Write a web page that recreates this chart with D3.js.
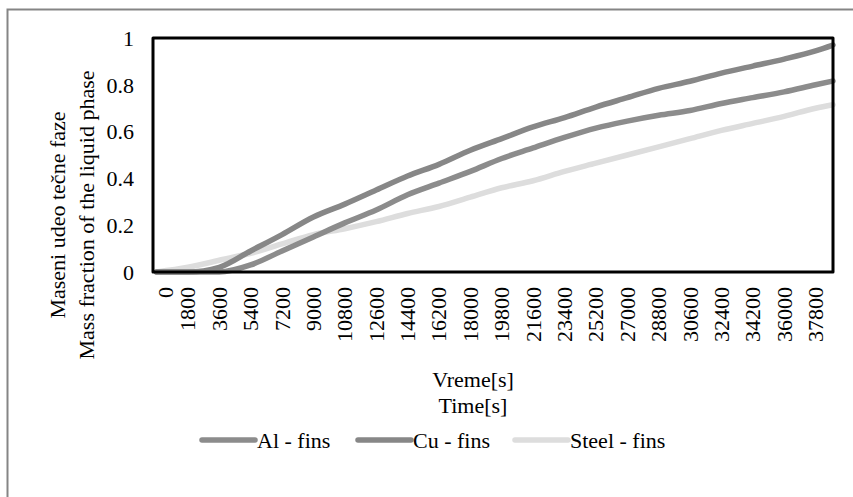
<!DOCTYPE html>
<html>
<head>
<meta charset="utf-8">
<script src="https://cdn.jsdelivr.net/npm/d3@7/dist/d3.min.js"></script>
<style>
  html, body { margin: 0; padding: 0; background: #fff; }
  svg { display: block; }
</style>
</head>
<body>
<svg id="chart" width="853" height="497"></svg>
<script>
// Time samples in seconds
const times = [0, 1800, 3600, 5400, 7200, 9000, 10800, 12600, 14400, 16200, 18000,
  19800, 21600, 23400, 25200, 27000, 28800, 30600, 32400, 34200, 36000, 37800, 38800];

// Mass fraction of the liquid phase per fin material
const alFins = [0, 0, 0, 0.03, 0.09, 0.15, 0.21, 0.265, 0.33, 0.38, 0.43,
  0.485, 0.53, 0.575, 0.615, 0.645, 0.67, 0.69, 0.72, 0.745, 0.77, 0.8, 0.816];
const cuFins = [0, 0, 0.02, 0.09, 0.16, 0.235, 0.29, 0.35, 0.41, 0.46, 0.52,
  0.57, 0.62, 0.66, 0.705, 0.745, 0.785, 0.815, 0.85, 0.88, 0.91, 0.945, 0.97];
const steelFins = [0, 0.02, 0.05, 0.08, 0.12, 0.16, 0.185, 0.215, 0.25, 0.28, 0.32,
  0.36, 0.39, 0.43, 0.465, 0.5, 0.535, 0.57, 0.605, 0.635, 0.665, 0.7, 0.715];

const seriesNames = ["Al - fins", "Cu - fins", "Steel - fins"];
const seriesColors = ["#8c8c8c", "#878787", "#dddddd"];

// Axis labels
const xTickValues = [0, 1800, 3600, 5400, 7200, 9000, 10800, 12600, 14400, 16200, 18000,
  19800, 21600, 23400, 25200, 27000, 28800, 30600, 32400, 34200, 36000, 37800];
const yTickValues = [0, 0.2, 0.4, 0.6, 0.8, 1];
const yTitleLines = ["Maseni udeo tečne faze", "Mass fraction of the liquid phase"];
const xTitleLines = ["Vreme[s]", "Time[s]"];

const FONT = "'Liberation Serif', Tinos, 'Times New Roman', 'DejaVu Serif', serif";
const FS = 22;

const svg = d3.select("#chart")
  .attr("font-family", FONT)
  .style("font-family", FONT);

// Partial outer frame (top and left edges)
svg.append("path")
  .attr("d", "M7.5,497 L7.5,9.5 L853,9.5")
  .attr("fill", "none")
  .attr("stroke", "#858585")
  .attr("stroke-width", 2);

const plot = { left: 153, right: 833, top: 38, bottom: 272 };

const x = d3.scaleLinear().domain([0, 38800]).range([plot.left + 3.5, plot.right]);
const y = d3.scaleLinear().domain([0, 1]).range([plot.bottom, plot.top]);

// Y tick labels
svg.append("g")
  .selectAll("text")
  .data(yTickValues)
  .join("text")
  .attr("x", 134)
  .attr("y", d => y(d))
  .attr("dy", "0.35em")
  .attr("text-anchor", "end")
  .attr("font-size", FS)
  .text(d => d3.format("~g")(d));

// X tick labels, rotated
svg.append("g")
  .selectAll("text")
  .data(xTickValues)
  .join("text")
  .attr("transform", d => {
    const px = Math.max(x(d), plot.left + 13);
    return `translate(${px},287) rotate(-90)`;
  })
  .attr("dy", "0.34em")
  .attr("text-anchor", "end")
  .attr("font-size", FS)
  .text(d => d);

// Y title (two rotated lines)
svg.append("g")
  .selectAll("text")
  .data(yTitleLines)
  .join("text")
  .attr("transform", (d, i) => `translate(${65 + i * 29},215) rotate(-90)`)
  .attr("text-anchor", "middle")
  .attr("font-size", FS)
  .text(d => d);

// X title (two lines)
svg.append("g")
  .selectAll("text")
  .data(xTitleLines)
  .join("text")
  .attr("x", 473)
  .attr("y", (d, i) => 387 + i * 26)
  .attr("text-anchor", "middle")
  .attr("font-size", FS)
  .text(d => d);

// Series lines
const seriesValues = [alFins, cuFins, steelFins];
const line = d3.line()
  .x(d => x(d[0]))
  .y(d => y(d[1]))
  .curve(d3.curveMonotoneX);

const drawOrder = [2, 0, 1];
drawOrder.forEach(i => {
  svg.append("path")
    .datum(times.map((t, k) => [t, seriesValues[i][k]]))
    .attr("d", line)
    .attr("fill", "none")
    .attr("stroke", seriesColors[i])
    .attr("stroke-width", 5.5)
    .attr("stroke-linecap", "round")
    .attr("stroke-linejoin", "round");
});

// Plot area border
svg.append("rect")
  .attr("x", plot.left)
  .attr("y", plot.top)
  .attr("width", plot.right - plot.left)
  .attr("height", plot.bottom - plot.top)
  .attr("fill", "none")
  .attr("stroke", "#000")
  .attr("stroke-width", 3)
  .attr("stroke-linejoin", "round");

// Legend
const legendX = [202, 358, 515];
const legend = svg.append("g");
seriesNames.forEach((name, i) => {
  legend.append("line")
    .attr("x1", legendX[i]).attr("x2", legendX[i] + 53)
    .attr("y1", 440).attr("y2", 440)
    .attr("stroke", seriesColors[i])
    .attr("stroke-width", 5.5)
    .attr("stroke-linecap", "round");
  legend.append("text")
    .attr("x", legendX[i] + 55)
    .attr("y", 448)
    .attr("font-size", FS)
    .text(name);
});
</script>
</body>
</html>
